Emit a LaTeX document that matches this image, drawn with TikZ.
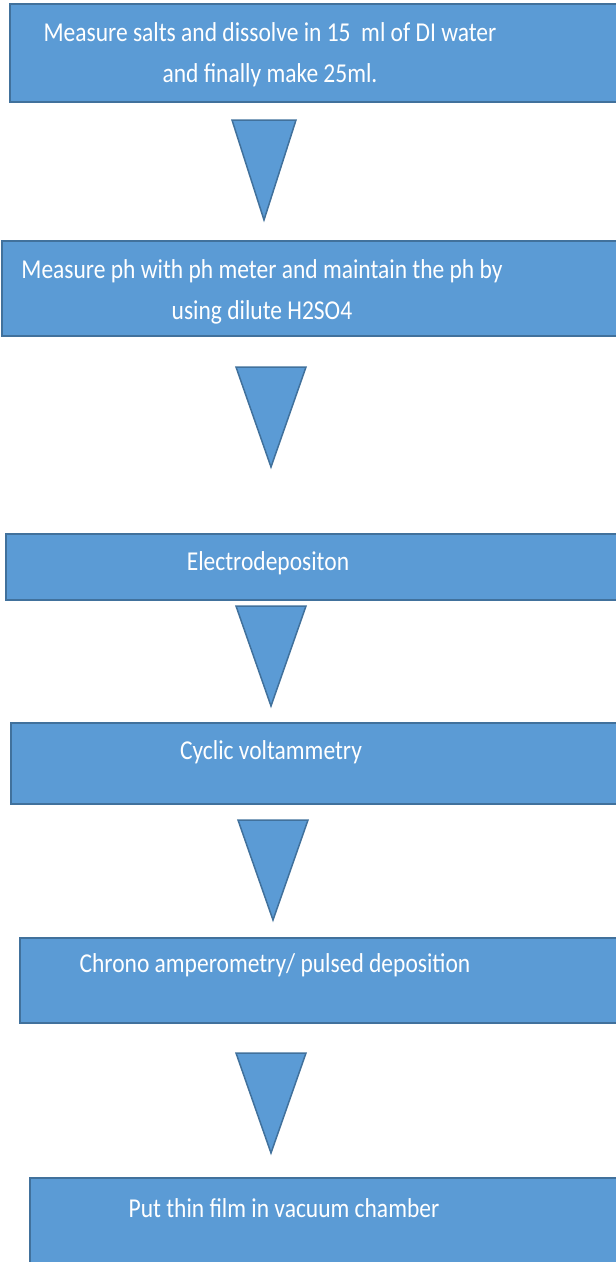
\documentclass[tikz,border=0pt]{standalone}
\usepackage{fontspec}
\setmainfont{Carlito}
\usepackage{tikz}
\usetikzlibrary{positioning}
\definecolor{boxfill}{HTML}{5B9BD5}
\definecolor{boxline}{HTML}{41719C}
\tikzstyle{block}=[draw=boxline,fill=boxfill,rectangle,line width=1.5pt,anchor=north west,inner sep=0pt,minimum width=700pt]
\tikzstyle{every node}=[font=\fontsize{23.5}{35.3}\selectfont]
\tikzstyle{steptext}=[text=white,align=center,inner sep=0pt,yscale=1.16]
\tikzstyle{downtri}=[draw=boxline,fill=boxfill,line width=1.5pt]

\begin{document}
\begin{tikzpicture}[x=1pt,y=-1pt]
  \useasboundingbox (0,0) rectangle (616,1262);
  \clip (0,0) rectangle (616,1262);
  % boxes
  \node[block, minimum height=98pt] (b1) at (9,3) {};
  \node[block, minimum height=95pt] (b2) at (1,240) {};
  \node[block, minimum height=66pt] (b3) at (5,533) {};
  \node[block, minimum height=81pt] (b4) at (10,722) {};
  \node[block, minimum height=85pt] (b5) at (19,937) {};
  \node[block, minimum height=120pt] (b6) at (29,1177) {};
  % texts
  \node[steptext] (s1) at (270,55) {Measure salts and dissolve in 15~~ml of DI water\\and finally make 25ml.};
  \node[steptext] (s2) at (262,292) {Measure ph with ph meter and maintain the ph by\\using dilute H2SO4};
  \node[steptext] (s3) at (268,563) {Electrodepositon};
  \node[steptext] (s4) at (271,752) {Cyclic voltammetry};
  \node[steptext] (s5) at (275,965) {Chrono amperometry/ pulsed deposition};
  \node[steptext] (s6) at (284,1208) {Put thin film in vacuum chamber};
  % arrows between steps
  \foreach \x/\y/\w in {232/120/64, 236/367/70, 236/606/70, 238/820/70, 236/1053/70}
    \draw[downtri] (\x,\y) -- ++(\w,0) -- ++(-\w/2,100) -- cycle;
\end{tikzpicture}
\end{document}
